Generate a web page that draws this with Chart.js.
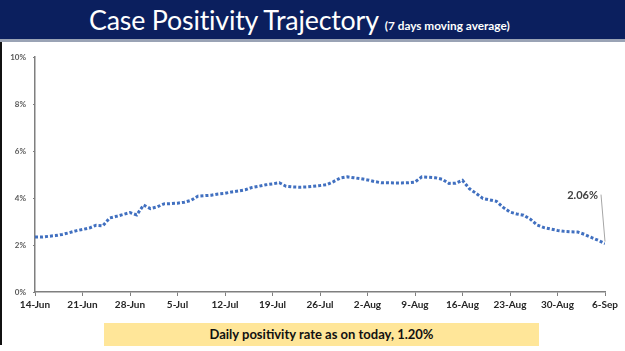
<!DOCTYPE html>
<html>
<head>
<meta charset="utf-8">
<script src="https://cdn.jsdelivr.net/npm/chart.js@4.4.1/dist/chart.umd.min.js"></script>
<style>
  html, body { margin: 0; padding: 0; background: #ffffff; }
  body { width: 625px; height: 351px; position: relative; overflow: hidden; font-family: Lato, "Open Sans", sans-serif; }
  #titlebar { position: absolute; left: 0; top: 0; width: 625px; height: 39px; background: #0b1f5e; border-bottom: 3px solid #9aa3b5; box-sizing: content-box; }
  #title { position: absolute; left: 89px; top: 0; height: 39px; text-align: left; color: #ffffff; white-space: nowrap; }
  #title .main { font-size: 26.8px; line-height: 40px; letter-spacing: -0.2px; }
  #title .sub { font-size: 11.8px; margin-left: 6px; font-weight: bold; }
  #leftborder { position: absolute; left: 0; top: 42px; width: 2px; height: 303px; background: #111; }
  #chartwrap { position: absolute; left: 0; top: 0; width: 625px; height: 351px; }
  #note { position: absolute; left: 104px; top: 323px; width: 435px; height: 23px; background: #ffe699; text-align: center; font-weight: bold; font-size: 13px; line-height: 23px; color: #111; }
</style>
</head>
<body>
<div id="chartwrap"><canvas id="c" width="625" height="351"></canvas></div>
<div id="titlebar"></div>
<div id="title"><span class="main">Case Positivity Trajectory</span><span class="sub">(7 days moving average)</span></div>
<div id="leftborder"></div>
<div id="note">Daily positivity rate as on today, 1.20%</div>
<script>
// Weekly tick labels (one every 7 days, starting 14-Jun)
const weekLabels = ["14-Jun","21-Jun","28-Jun","5-Jul","12-Jul","19-Jul","26-Jul","2-Aug","9-Aug","16-Aug","23-Aug","30-Aug","6-Sep"];
// Daily 7-day moving average case positivity (%), 14-Jun .. 6-Sep
const positivity = [
  2.34, 2.34, 2.37, 2.40, 2.45, 2.52, 2.60, 2.66, 2.72, 2.84,
  2.82, 3.15, 3.22, 3.30, 3.38, 3.28, 3.70, 3.55, 3.62, 3.75,
  3.76, 3.78, 3.82, 3.90, 4.08, 4.10, 4.12, 4.17, 4.20, 4.26,
  4.30, 4.35, 4.45, 4.50, 4.56, 4.60, 4.65, 4.50, 4.47, 4.46,
  4.47, 4.50, 4.53, 4.57, 4.70, 4.85, 4.90, 4.86, 4.82, 4.77,
  4.70, 4.65, 4.65, 4.64, 4.64, 4.65, 4.68, 4.90, 4.88, 4.86,
  4.80, 4.62, 4.63, 4.75, 4.40, 4.20, 3.98, 3.92, 3.86, 3.60,
  3.40, 3.32, 3.27, 3.10, 2.85, 2.74, 2.68, 2.62, 2.58, 2.56,
  2.55, 2.45, 2.32, 2.20, 2.06
];
const yTicks = [0, 2, 4, 6, 8, 10];
const lastLabel = "2.06%";

const points = positivity.map((v, i) => ({ x: i, y: v }));

const annotate = {
  id: 'annotate',
  afterDatasetsDraw(chart) {
    const meta = chart.getDatasetMeta(0);
    const p = meta.data[meta.data.length - 1];
    const ctx = chart.ctx;
    ctx.save();
    ctx.strokeStyle = '#a6a6a6';
    ctx.lineWidth = 1;
    ctx.beginPath();
    ctx.moveTo(p.x - 4, p.y - 49);
    ctx.lineTo(p.x, p.y - 2);
    ctx.stroke();
    ctx.fillStyle = '#404040';
    ctx.font = 'bold 11px Lato, sans-serif';
    ctx.textAlign = 'right';
    ctx.textBaseline = 'middle';
    ctx.fillText(lastLabel, p.x - 7, p.y - 48);
    ctx.restore();
  }
};

new Chart(document.getElementById('c'), {
  type: 'line',
  data: {
    datasets: [{
      data: points,
      borderColor: '#4170c0',
      borderWidth: 3,
      borderDash: [3, 2],
      pointRadius: 0,
      tension: 0,
      fill: false
    }]
  },
  options: {
    responsive: false,
    animation: false,
    devicePixelRatio: 1,
    layout: { padding: { top: 57, right: 20, bottom: 38, left: 0 } },
    plugins: { legend: { display: false }, tooltip: { enabled: false } },
    scales: {
      x: {
        type: 'linear',
        min: 0,
        max: 84,
        afterBuildTicks(scale) {
          scale.ticks = weekLabels.map((_, i) => ({ value: i * 7 }));
        },
        afterFit(scale) { scale.height = 21; },
        border: { color: '#7f7f7f', width: 1.5 },
        grid: { drawOnChartArea: false, drawTicks: true, tickLength: 4, color: '#7f7f7f' },
        ticks: {
          autoSkip: false,
          maxRotation: 0,
          padding: 3,
          color: '#262626',
          font: { family: 'Lato', size: 10, weight: 'bold' },
          callback: (v) => weekLabels[Math.round(v / 7)]
        }
      },
      y: {
        min: 0,
        max: 10,
        afterBuildTicks(scale) {
          scale.ticks = yTicks.map(v => ({ value: v }));
        },
        afterFit(scale) { scale.width = 35; },
        border: { color: '#7f7f7f', width: 1.5 },
        grid: { drawOnChartArea: false, drawTicks: true, tickLength: 2, color: '#7f7f7f' },
        ticks: {
          padding: 7,
          color: '#595959',
          font: { family: 'Lato', size: 8, weight: 'bold' },
          callback: (v) => v + '%'
        }
      }
    }
  },
  plugins: [annotate]
});
</script>
</body>
</html>
